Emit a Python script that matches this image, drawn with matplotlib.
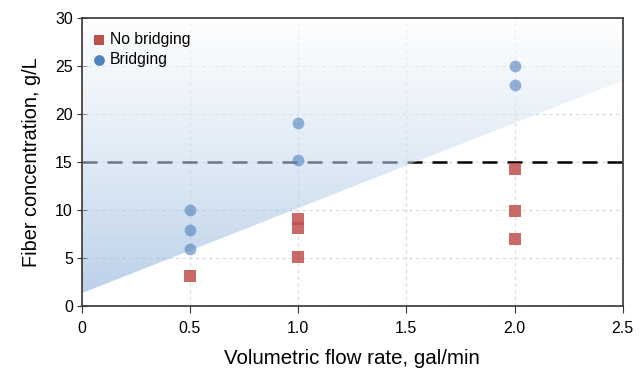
import numpy as np
import matplotlib
matplotlib.use("Agg")
import matplotlib.pyplot as plt
from matplotlib.colors import LinearSegmentedColormap

plt.rcParams["font.family"] = ["Liberation Sans", "DejaVu Sans"]

# ── data ─────────────────────────────────────────────
no_bridge_x = [0.5, 1.0, 1.0, 1.0, 2.0, 2.0, 2.0]
no_bridge_y = [3.1, 9.1, 8.1, 5.1, 14.3, 9.9, 7.0]

bridge_x = [0.5, 0.5, 0.5, 1.0, 1.0, 2.0, 2.0]
bridge_y = [10.0, 7.9, 6.0, 19.1, 15.2, 25.0, 23.0]

threshold_y = 15
boundary_intercept = 1.35
boundary_slope = 8.86

x_ticks = [0, 0.5, 1.0, 1.5, 2.0, 2.5]
x_ticklabels = ["0", "0.5", "1.0", "1.5", "2.0", "2.5"]
y_ticks = [0, 5, 10, 15, 20, 25, 30]

RED = "#c0504d"
BLUE = "#4f81bd"
FRAME = "#3b3333"

fig = plt.figure(figsize=(6.44, 3.77), dpi=100)
ax = fig.add_axes([0.127, 0.188, 0.840, 0.764])

ax.grid(True, color="#d9d9d9", ls=(0, (3, 3)), lw=0.8, zorder=0.5)
ax.set_axisbelow(True)

# threshold line (under the shaded region so it greys out inside)
ax.axhline(threshold_y, color="black", lw=1.8, ls=(0, (6, 4)), zorder=1)

# shaded "bridging" region with vertical gradient (blue bottom -> white top)
xs = np.linspace(0, 2.5, 50)
edge = boundary_intercept + boundary_slope * xs
region = ax.fill_between(xs, edge, 30, color="none", lw=0)
cmap = LinearSegmentedColormap.from_list("grad", ["#7fa8d6", "#c6daef", "#ffffff"])
grad = np.linspace(0, 1, 256).reshape(-1, 1)
img = ax.imshow(grad, cmap=cmap, extent=[0, 2.5, 0, 30], aspect="auto",
                alpha=0.55, zorder=2, origin="lower")
img.set_clip_path(region.get_paths()[0], transform=ax.transData)
ax.set_xlim(0, 2.5)
ax.set_ylim(0, 30)

ax.scatter(no_bridge_x, no_bridge_y, marker="s", s=68, color=RED, alpha=0.85,
           lw=0, zorder=4)
ax.scatter(bridge_x, bridge_y, marker="o", s=72, color=BLUE, alpha=0.6,
           lw=0, zorder=4)

# legend
h1 = ax.scatter([], [], marker="s", s=55, color=RED, lw=0)
h2 = ax.scatter([], [], marker="o", s=60, color=BLUE, lw=0)
ax.legend([h1, h2], ["No bridging", "Bridging"], loc="upper left",
          bbox_to_anchor=(0.0, 0.985), frameon=False, fontsize=11.3,
          handletextpad=0.2, labelspacing=0.35, borderaxespad=0.2,
          handlelength=1.0)

ax.set_xticks(x_ticks)
ax.set_xticklabels(x_ticklabels)
ax.set_yticks(y_ticks)
ax.tick_params(axis="x", direction="out", length=5, color=FRAME, labelsize=11.5, pad=6)
ax.tick_params(axis="y", direction="inout", length=7, color=FRAME, labelsize=11.5, pad=3)
for sp in ax.spines.values():
    sp.set_color(FRAME)
    sp.set_linewidth(1.2)
    sp.set_zorder(5)

ax.set_xlabel("Volumetric flow rate, gal/min", fontsize=14.8, labelpad=9)
ax.set_ylabel("Fiber concentration, g/L", fontsize=14.3, labelpad=10)

fig.savefig("out.png", dpi=100)
